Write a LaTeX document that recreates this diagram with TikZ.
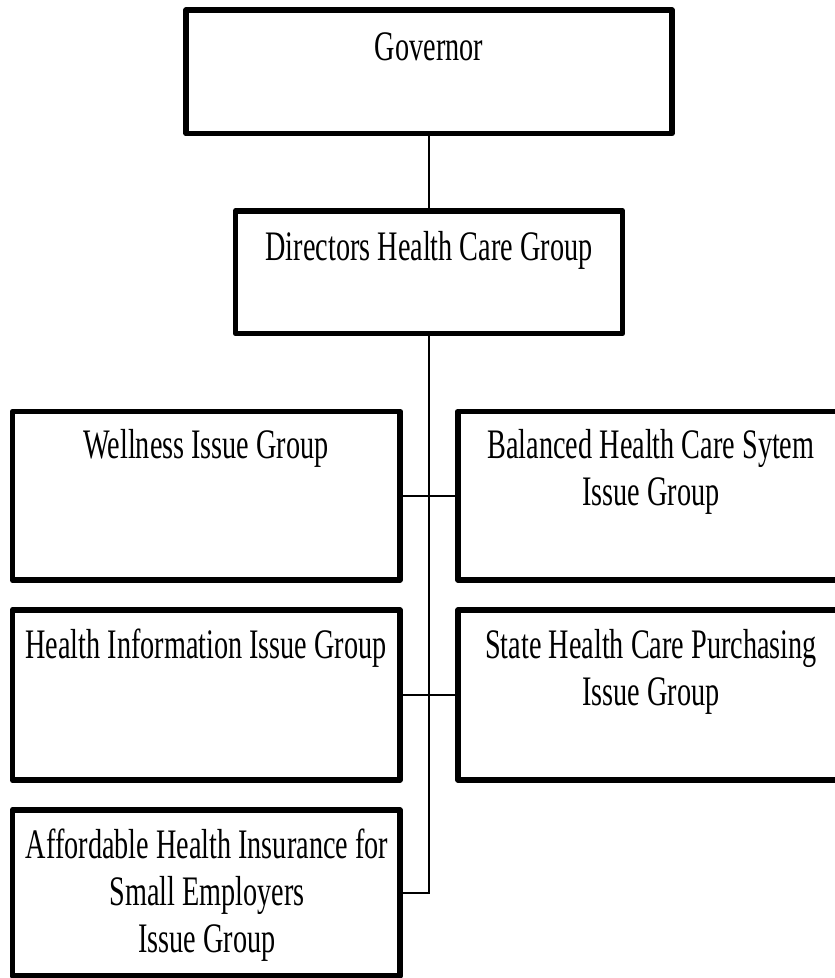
\documentclass[tikz,border=0pt]{standalone}
\usepackage{fontspec}
\setmainfont[FakeStretch=0.672]{Liberation Serif}
\begin{document}
\begin{tikzpicture}[x=1pt,y=-1pt,
  orgbox/.style={draw=black, line width=5.8pt, rectangle, inner sep=0pt, outer sep=0pt, line join=round},
  boxtext/.style={anchor=base, align=center, inner sep=0pt, font=\fontsize{42}{47}\selectfont},
  conn/.style={draw=black, line width=2pt}]
\clip (0,0) rectangle (835,978);
\fill[white] (0,0) rectangle (835,978);
% boxes
\node[orgbox, minimum width=485.5pt, minimum height=123.5pt] (gov) at (429,71.75) {};
\node[orgbox, minimum width=387pt, minimum height=122.5pt] (dir) at (429,272.25) {};
\node[orgbox, minimum width=387.5pt, minimum height=168.5pt] (well) at (206.25,495.75) {};
\node[orgbox, minimum width=385pt, minimum height=168.5pt] (bal) at (650.5,495.75) {};
\node[orgbox, minimum width=387.5pt, minimum height=170pt] (hinfo) at (206.25,695) {};
\node[orgbox, minimum width=385pt, minimum height=170pt] (state) at (650.5,695) {};
\node[orgbox, minimum width=387.5pt, minimum height=166pt] (aff) at (206.25,893) {};
% texts (base anchor = baseline of the last line)
\node[boxtext] (govt) at (429,60) {Governor};
\node[boxtext] (dirt) at (429,260) {Directors Health Care Group};
\node[boxtext] (wellt) at (206,458) {Wellness Issue Group};
\node[boxtext] (balt) at (651,505) {Balanced Health Care Sytem\\Issue Group};
\node[boxtext] (hinfot) at (206,658) {Health Information Issue Group};
\node[boxtext] (statet) at (651,705) {State Health Care Purchasing\\Issue Group};
\node[boxtext] (afft) at (207,952) {Affordable Health Insurance for\\Small Employers\\Issue Group};
% connectors
\draw[conn] (gov.south) -- (dir.north);
\draw[conn] (dir.south) |- (aff.east);
\draw[conn] (well.east) -- (bal.west);
\draw[conn] (hinfo.east) -- (state.west);
\end{tikzpicture}
\end{document}
